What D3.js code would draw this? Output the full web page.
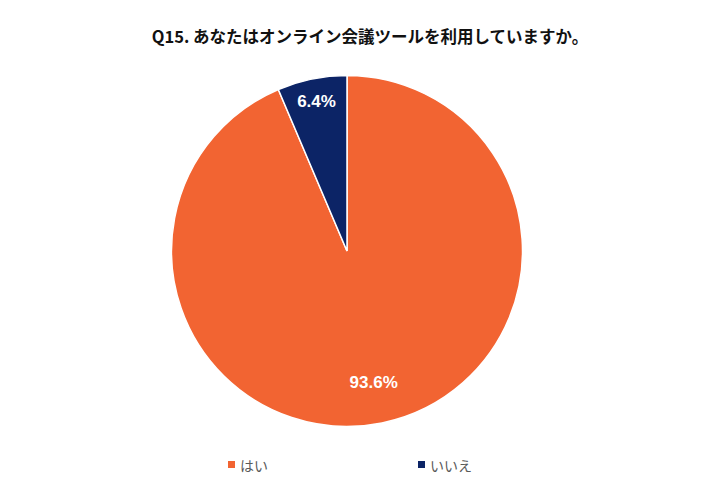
<!DOCTYPE html>
<html>
<head>
<meta charset="utf-8">
<script src="https://cdn.jsdelivr.net/npm/d3@7"></script>
<style>
  body { margin:0; background:#fff; }
  svg { display:block; font-family: "Noto Sans CJK JP", "Noto Sans", sans-serif; }
</style>
</head>
<body>
<svg width="720" height="480"></svg>
<script>
const title = "Q15. あなたはオンライン会議ツールを利用していますか。"
const categories = ["はい", "いいえ"]
const values = [93.6, 6.4]
const colors = ["#F26432", "#0C2466"]

const svg = d3.select("svg")
const cx = 347, cy = 251, radius = 175.5

svg.append("text")
    .attr("x", 370)
    .attr("y", 43)
    .attr("text-anchor", "middle")
    .attr("fill", "#111")
    .style("font-size", "16.5px")
    .style("font-weight", "bold")
    .text(title)

const data = categories.map((c,i)=>({category:c, value:values[i], color:colors[i]}))

const pie = d3.pie().sort(null).value(d=>d.value)
const arc = d3.arc().innerRadius(0).outerRadius(radius)
// label radius per slice, roughly where the original put them
const labelR = [0.76, 0.87]

const g = svg.append("g").attr("transform", `translate(${cx},${cy})`)

const arcs = pie(data)

g.selectAll("path")
  .data(arcs)
  .join("path")
    .attr("d", arc)
    .attr("fill", d=>d.data.color)
    .attr("stroke", "#fff")
    .attr("stroke-width", 1.5)

g.selectAll(".label")
  .data(arcs)
  .join("text")
    .attr("class", "label")
    .attr("transform", (d,i)=>{
        const r = radius * labelR[i]
        const a = (d.startAngle + d.endAngle) / 2
        return `translate(${Math.sin(a)*r},${-Math.cos(a)*r})`
    })
    .attr("text-anchor", "middle")
    .attr("dy", "0.35em")
    .attr("fill", "#fff")
    .style("font-family", "'Liberation Sans', Arial, sans-serif")
    .style("font-size", "17px")
    .style("font-weight", "bold")
    .text(d=>d.data.value.toFixed(1) + "%")

const legendX = [228, 418]
const legend = svg.selectAll(".legend")
  .data(data)
  .join("g")
    .attr("class", "legend")
    .attr("transform", (d,i)=>`translate(${legendX[i]},461)`)

legend.append("rect")
    .attr("width", 7).attr("height", 7)
    .attr("fill", d=>d.color)

legend.append("text")
    .attr("x", 12)
    .attr("y", 10)
    .attr("fill", "#595959")
    .style("font-size", "14px")
    .text(d=>d.category)
</script>
</body>
</html>
